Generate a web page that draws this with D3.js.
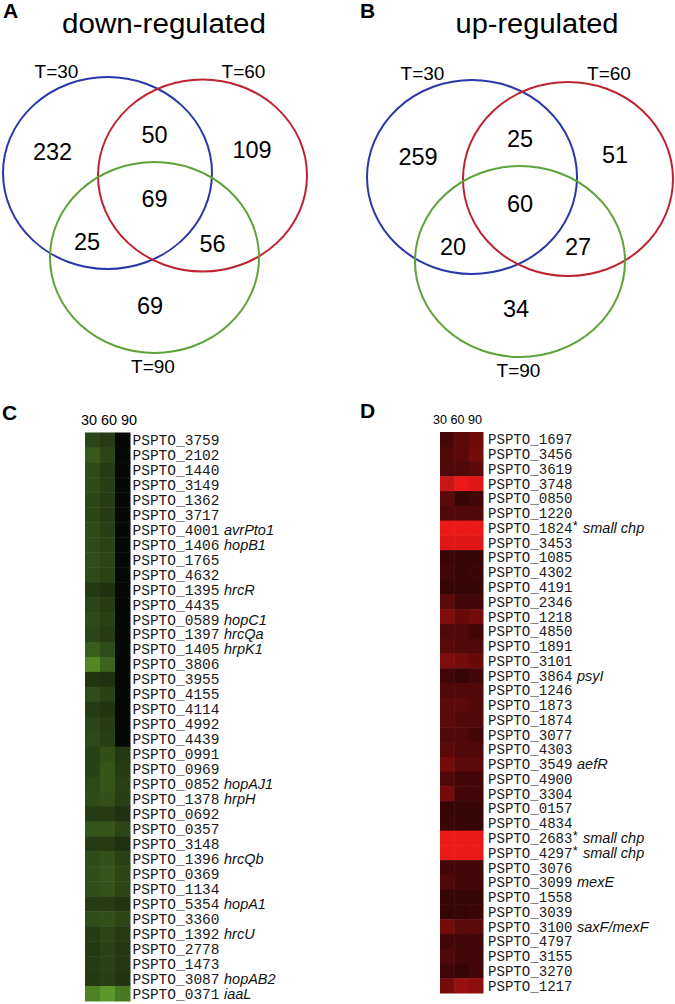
<!DOCTYPE html>
<html>
<head>
<meta charset="utf-8">
<script src="https://cdn.jsdelivr.net/npm/d3@7"></script>
<style>
  html, body { margin: 0; padding: 0; background: #ffffff; }
  svg { display: block; }
</style>
</head>
<body>
<script>
// ---------------- DATA ----------------
const timepoints = ["30", "60", "90"];
const setLabels = ["T=30", "T=60", "T=90"];
// Venn region counts: [only30, only60, only90, 30&60, 30&90, 60&90, all]
const downCounts = [232, 109, 69, 50, 25, 56, 69];
const upCounts   = [259, 51, 34, 25, 20, 27, 60];

const geneIdsC = ["PSPTO_3759","PSPTO_2102","PSPTO_1440","PSPTO_3149","PSPTO_1362","PSPTO_3717","PSPTO_4001","PSPTO_1406","PSPTO_1765","PSPTO_4632","PSPTO_1395","PSPTO_4435","PSPTO_0589","PSPTO_1397","PSPTO_1405","PSPTO_3806","PSPTO_3955","PSPTO_4155","PSPTO_4114","PSPTO_4992","PSPTO_4439","PSPTO_0991","PSPTO_0969","PSPTO_0852","PSPTO_1378","PSPTO_0692","PSPTO_0357","PSPTO_3148","PSPTO_1396","PSPTO_0369","PSPTO_1134","PSPTO_5354","PSPTO_3360","PSPTO_1392","PSPTO_2778","PSPTO_1473","PSPTO_3087","PSPTO_0371"];
const geneNamesC = ["","","","","","","avrPto1","hopB1","","","hrcR","","hopC1","hrcQa","hrpK1","","","","","","","","","hopAJ1","hrpH","","","","hrcQb","","","hopA1","","hrcU","","","hopAB2","iaaL"];
// down-regulation magnitude (0 = none, 1 = strongest)
const downT30 = [.30,.40,.33,.33,.31,.31,.33,.33,.34,.33,.24,.30,.33,.30,.42,.62,.22,.34,.25,.30,.32,.28,.28,.32,.33,.25,.38,.25,.33,.35,.35,.25,.34,.25,.24,.25,.24,.60];
const downT60 = [.25,.30,.25,.27,.26,.25,.27,.29,.30,.29,.21,.26,.28,.25,.34,.45,.20,.28,.22,.26,.27,.35,.38,.38,.36,.25,.38,.25,.36,.38,.37,.25,.35,.30,.28,.28,.27,.70];
const downT90 = [0,0,0,0,0,0,0,0,0,0,0,0,0,0,0,0,0,0,0,0,0,.24,.25,.28,.27,.20,.30,.20,.28,.30,.30,.22,.30,.25,.23,.23,.22,.55];

const geneIdsD = ["PSPTO_1697","PSPTO_3456","PSPTO_3619","PSPTO_3748","PSPTO_0850","PSPTO_1220","PSPTO_1824","PSPTO_3453","PSPTO_1085","PSPTO_4302","PSPTO_4191","PSPTO_2346","PSPTO_1218","PSPTO_4850","PSPTO_1891","PSPTO_3101","PSPTO_3864","PSPTO_1246","PSPTO_1873","PSPTO_1874","PSPTO_3077","PSPTO_4303","PSPTO_3549","PSPTO_4900","PSPTO_3304","PSPTO_0157","PSPTO_4834","PSPTO_2683","PSPTO_4297","PSPTO_3076","PSPTO_3099","PSPTO_1558","PSPTO_3039","PSPTO_3100","PSPTO_4797","PSPTO_3155","PSPTO_3270","PSPTO_1217"];
const geneNamesD = ["","","","","","","small chp","","","","","","","","","","psyI","","","","","","aefR","","","","","small chp","small chp","","mexE","","","saxF/mexF","","","",""];
const starredD = ["PSPTO_1824","PSPTO_2683","PSPTO_4297"];
const upT30 = [.26,.30,.30,.80,.35,.30,.95,.90,.22,.25,.20,.35,.50,.30,.35,.50,.25,.30,.35,.35,.30,.35,.45,.30,.45,.20,.22,.95,.95,.25,.30,.20,.20,.45,.25,.30,.25,.45];
const upT60 = [.35,.35,.30,.95,.20,.30,.95,.90,.20,.20,.20,.25,.40,.30,.30,.45,.20,.30,.35,.30,.30,.30,.35,.25,.25,.20,.20,.95,.95,.25,.25,.20,.20,.35,.25,.25,.20,.60];
const upT90 = [.42,.45,.35,.90,.25,.30,.95,.90,.20,.22,.20,.25,.45,.25,.30,.40,.25,.30,.30,.30,.25,.30,.35,.25,.25,.20,.20,.95,.95,.25,.25,.20,.22,.35,.25,.25,.25,.55];

// ---------------- LAYOUT ----------------
const W = 675, H = 1004;
const svg = d3.select("body").append("svg").attr("width", W).attr("height", H);
const sans = "'Liberation Sans', Arial, Helvetica, sans-serif";
const mono = "'Liberation Mono', 'Courier New', monospace";
const setColors = ["#2a37a6", "#be2430", "#5ea33a"];

function venn(cfg, counts, title) {
  const g = svg.append("g");
  // panel letter
  g.append("text").attr("x", cfg.letterX).attr("y", 18).text(cfg.letter)
    .attr("font-family", sans).attr("font-weight", "bold").attr("font-size", 21);
  g.append("text").attr("x", cfg.titleX).attr("y", 33).attr("text-anchor", "middle")
    .attr("font-family", sans).attr("font-size", 27)
    .attr("textLength", cfg.titleLen).attr("lengthAdjust", "spacingAndGlyphs")
    .text(title);
  const x = d3.scaleLinear().domain([0, 1]).range([cfg.x0, cfg.x0 + 1]);
  g.selectAll("ellipse").data(setLabels).join("ellipse")
    .attr("cx", (d, i) => x(cfg.centers[i][0]))
    .attr("cy", (d, i) => cfg.centers[i][1])
    .attr("rx", cfg.rx).attr("ry", (d, i) => cfg.ry[i])
    .attr("fill", "none").attr("stroke", (d, i) => setColors[i]).attr("stroke-width", 2);
  g.selectAll("text.set").data(setLabels).join("text").attr("class", "set")
    .attr("x", (d, i) => x(cfg.setPos[i][0])).attr("y", (d, i) => cfg.setPos[i][1])
    .attr("text-anchor", "middle").attr("font-family", sans).attr("font-size", 19)
    .text(d => d);
  g.selectAll("text.count").data(counts).join("text").attr("class", "count")
    .attr("x", (d, i) => x(cfg.regionPos[i][0])).attr("y", (d, i) => cfg.regionPos[i][1])
    .attr("text-anchor", "middle").attr("font-family", sans).attr("font-size", 23.5)
    .text(d => d);
}

venn({
  letter: "A", letterX: 3, titleX: 164, titleLen: 204, x0: 0, rx: 104.5, ry: [96, 96, 95.5],
  centers: [[107.5, 173], [202.5, 175.5], [154.5, 257.5]],
  setPos: [[56.5, 78], [243.5, 78], [153, 373]],
  regionPos: [[52.5, 160], [252, 158], [150, 314], [154.5, 143], [87, 250], [212.5, 252], [154.5, 207]]
}, downCounts, "down-regulated");

venn({
  letter: "B", letterX: 360, titleX: 537, titleLen: 163, x0: 0, rx: 105, ry: [97, 97, 95.5],
  centers: [[472, 177], [568, 179], [520, 261.5]],
  setPos: [[422.5, 80], [609, 80], [518.5, 377]],
  regionPos: [[418, 165], [615, 163], [516, 317], [520, 147], [453, 255], [578, 255], [520, 212]]
}, upCounts, "up-regulated");

// ---------------- HEATMAPS ----------------
function heatmap(cfg) {
  const g = svg.append("g");
  g.append("text").attr("x", cfg.letterX).attr("y", cfg.letterY).text(cfg.letter)
    .attr("font-family", sans).attr("font-weight", "bold").attr("font-size", 21);
  const x = d3.scaleBand().domain(timepoints).range([cfg.left, cfg.right]);
  const y = d3.scaleBand().domain(d3.range(cfg.ids.length)).range([cfg.top, cfg.bottom]);
  const color = d3.scaleLinear().domain([0, 1]).range(cfg.colors).clamp(true);
  g.append("text").attr("x", cfg.headX).attr("y", cfg.headY)
    .attr("font-family", sans).attr("font-size", cfg.headSize)
    .attr("textLength", cfg.headLen).attr("lengthAdjust", "spacingAndGlyphs")
    .text(timepoints.join(" "));
  const cells = [];
  cfg.ids.forEach((id, i) => {
    cfg.values.forEach((arr, j) => cells.push({ i, t: timepoints[j], v: arr[i] }));
  });
  g.selectAll("rect").data(cells).join("rect")
    .attr("x", d => x(d.t)).attr("y", d => y(d.i))
    .attr("width", x.bandwidth() + 0.5).attr("height", y.bandwidth() + 0.5)
    .attr("fill", d => color(d.v));
  const rows = g.selectAll("g.row").data(cfg.ids).join("g").attr("class", "row")
    .attr("transform", (d, i) => `translate(0,${y(i) + y.bandwidth() / 2 + 5})`);
  rows.append("text").attr("x", cfg.labelX)
    .attr("font-family", mono).attr("font-size", cfg.labelSize).attr("fill", "#1a1a1a")
    .attr("textLength", cfg.labelLen).attr("lengthAdjust", "spacingAndGlyphs")
    .text(d => d);
  rows.filter(d => cfg.starred.includes(d)).append("text")
    .attr("x", cfg.starX).attr("y", -3).attr("font-family", sans).attr("font-size", 12)
    .text("*");
  rows.append("text")
    .attr("x", (d, i) => cfg.starred.includes(d) ? cfg.starNameX : cfg.nameX)
    .attr("font-family", sans).attr("font-style", "italic").attr("font-size", 14.5)
    .attr("fill", "#111")
    .text((d, i) => cfg.names[i]);
}

heatmap({
  letter: "C", letterX: 2, letterY: 420,
  ids: geneIdsC, names: geneNamesC, starred: [],
  values: [downT30, downT60, downT90],
  left: 85, right: 130, top: 432.5, bottom: 1001,
  colors: ["#060806", "#80d43a"],
  headX: 81, headY: 425, headSize: 14.5, headLen: 56,
  labelX: 132.5, labelSize: 14.5, labelLen: 87,
  nameX: 224, starX: 0, starNameX: 0
});

heatmap({
  letter: "D", letterX: 360, letterY: 418,
  ids: geneIdsD, names: geneNamesD, starred: starredD,
  values: [upT30, upT60, upT90],
  left: 440, right: 483, top: 432, bottom: 993,
  colors: ["#080000", "#f81a1a"],
  headX: 433, headY: 424, headSize: 12.5, headLen: 49,
  labelX: 488, labelSize: 14, labelLen: 84.5,
  nameX: 577, starX: 573, starNameX: 583
});
</script>
</body>
</html>
